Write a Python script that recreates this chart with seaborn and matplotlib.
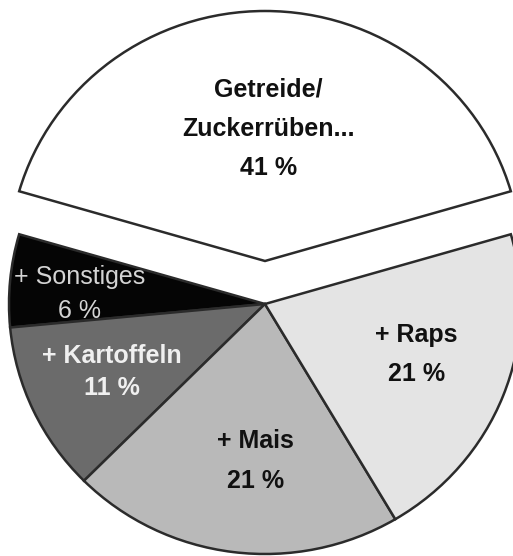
import numpy as np
import matplotlib
matplotlib.use("Agg")
import matplotlib.pyplot as plt
import seaborn as sns

sns.set_theme(style="white")
plt.rcParams["font.family"] = ["Liberation Sans", "DejaVu Sans"]

# Shares of the crop rotation (percent)
categories = ["Getreide/\nZuckerrüben...", "+ Sonstiges", "+ Kartoffeln", "+ Mais", "+ Raps"]
shares = [41, 6, 11, 21, 21]
colors = ["#ffffff", "#050505", "#6b6b6b", "#b9b9b9", "#e4e4e4"]
text_colors = ["#111111", "#d4d4d4", "#f0f0f0", "#111111", "#111111"]
text_weights = ["bold", "normal", "bold", "bold", "bold"]
explode = [0.172, 0, 0, 0, 0]

fig = plt.figure(figsize=(5.13, 5.56), dpi=100)
ax = fig.add_axes([0, 0, 1, 1])

start = 90 - shares[0] / 100 * 180
wedges, _ = ax.pie(
    shares,
    colors=colors,
    explode=explode,
    startangle=start,
    counterclock=True,
    radius=1.0,
    wedgeprops=dict(edgecolor="#2b2b2b", linewidth=1.8),
)

# Label placement: radial distance, angular shift from the wedge middle, line spacing
label_r = [0.53, 0.724, 0.657, 0.629, 0.625]
label_dang = [-1.3, 2.2, -0.7, 3.7, 2.8]
line_sp = [1.8, 1.54, 1.44, 1.8, 1.8]
for w, name, val, r, da, tc, fw, ls in zip(
    wedges, categories, shares, label_r, label_dang, text_colors, text_weights, line_sp
):
    ang = np.deg2rad((w.theta1 + w.theta2) / 2 + da)
    cx, cy = w.center
    ax.text(
        cx + r * np.cos(ang), cy + r * np.sin(ang),
        f"{name}\n{val} %",
        ha="center", va="center", multialignment="center",
        fontsize=18, color=tc, fontweight=fw, linespacing=ls,
    )

# Slightly wider horizontal scale than vertical
ax.set_aspect("auto")
ax.set_xlim(-265 / 256, (513 - 265) / 256)
ax.set_ylim(-(556 - 304) / 250, 304 / 250)
ax.axis("off")

fig.savefig("out.png", dpi=100, facecolor="white")
